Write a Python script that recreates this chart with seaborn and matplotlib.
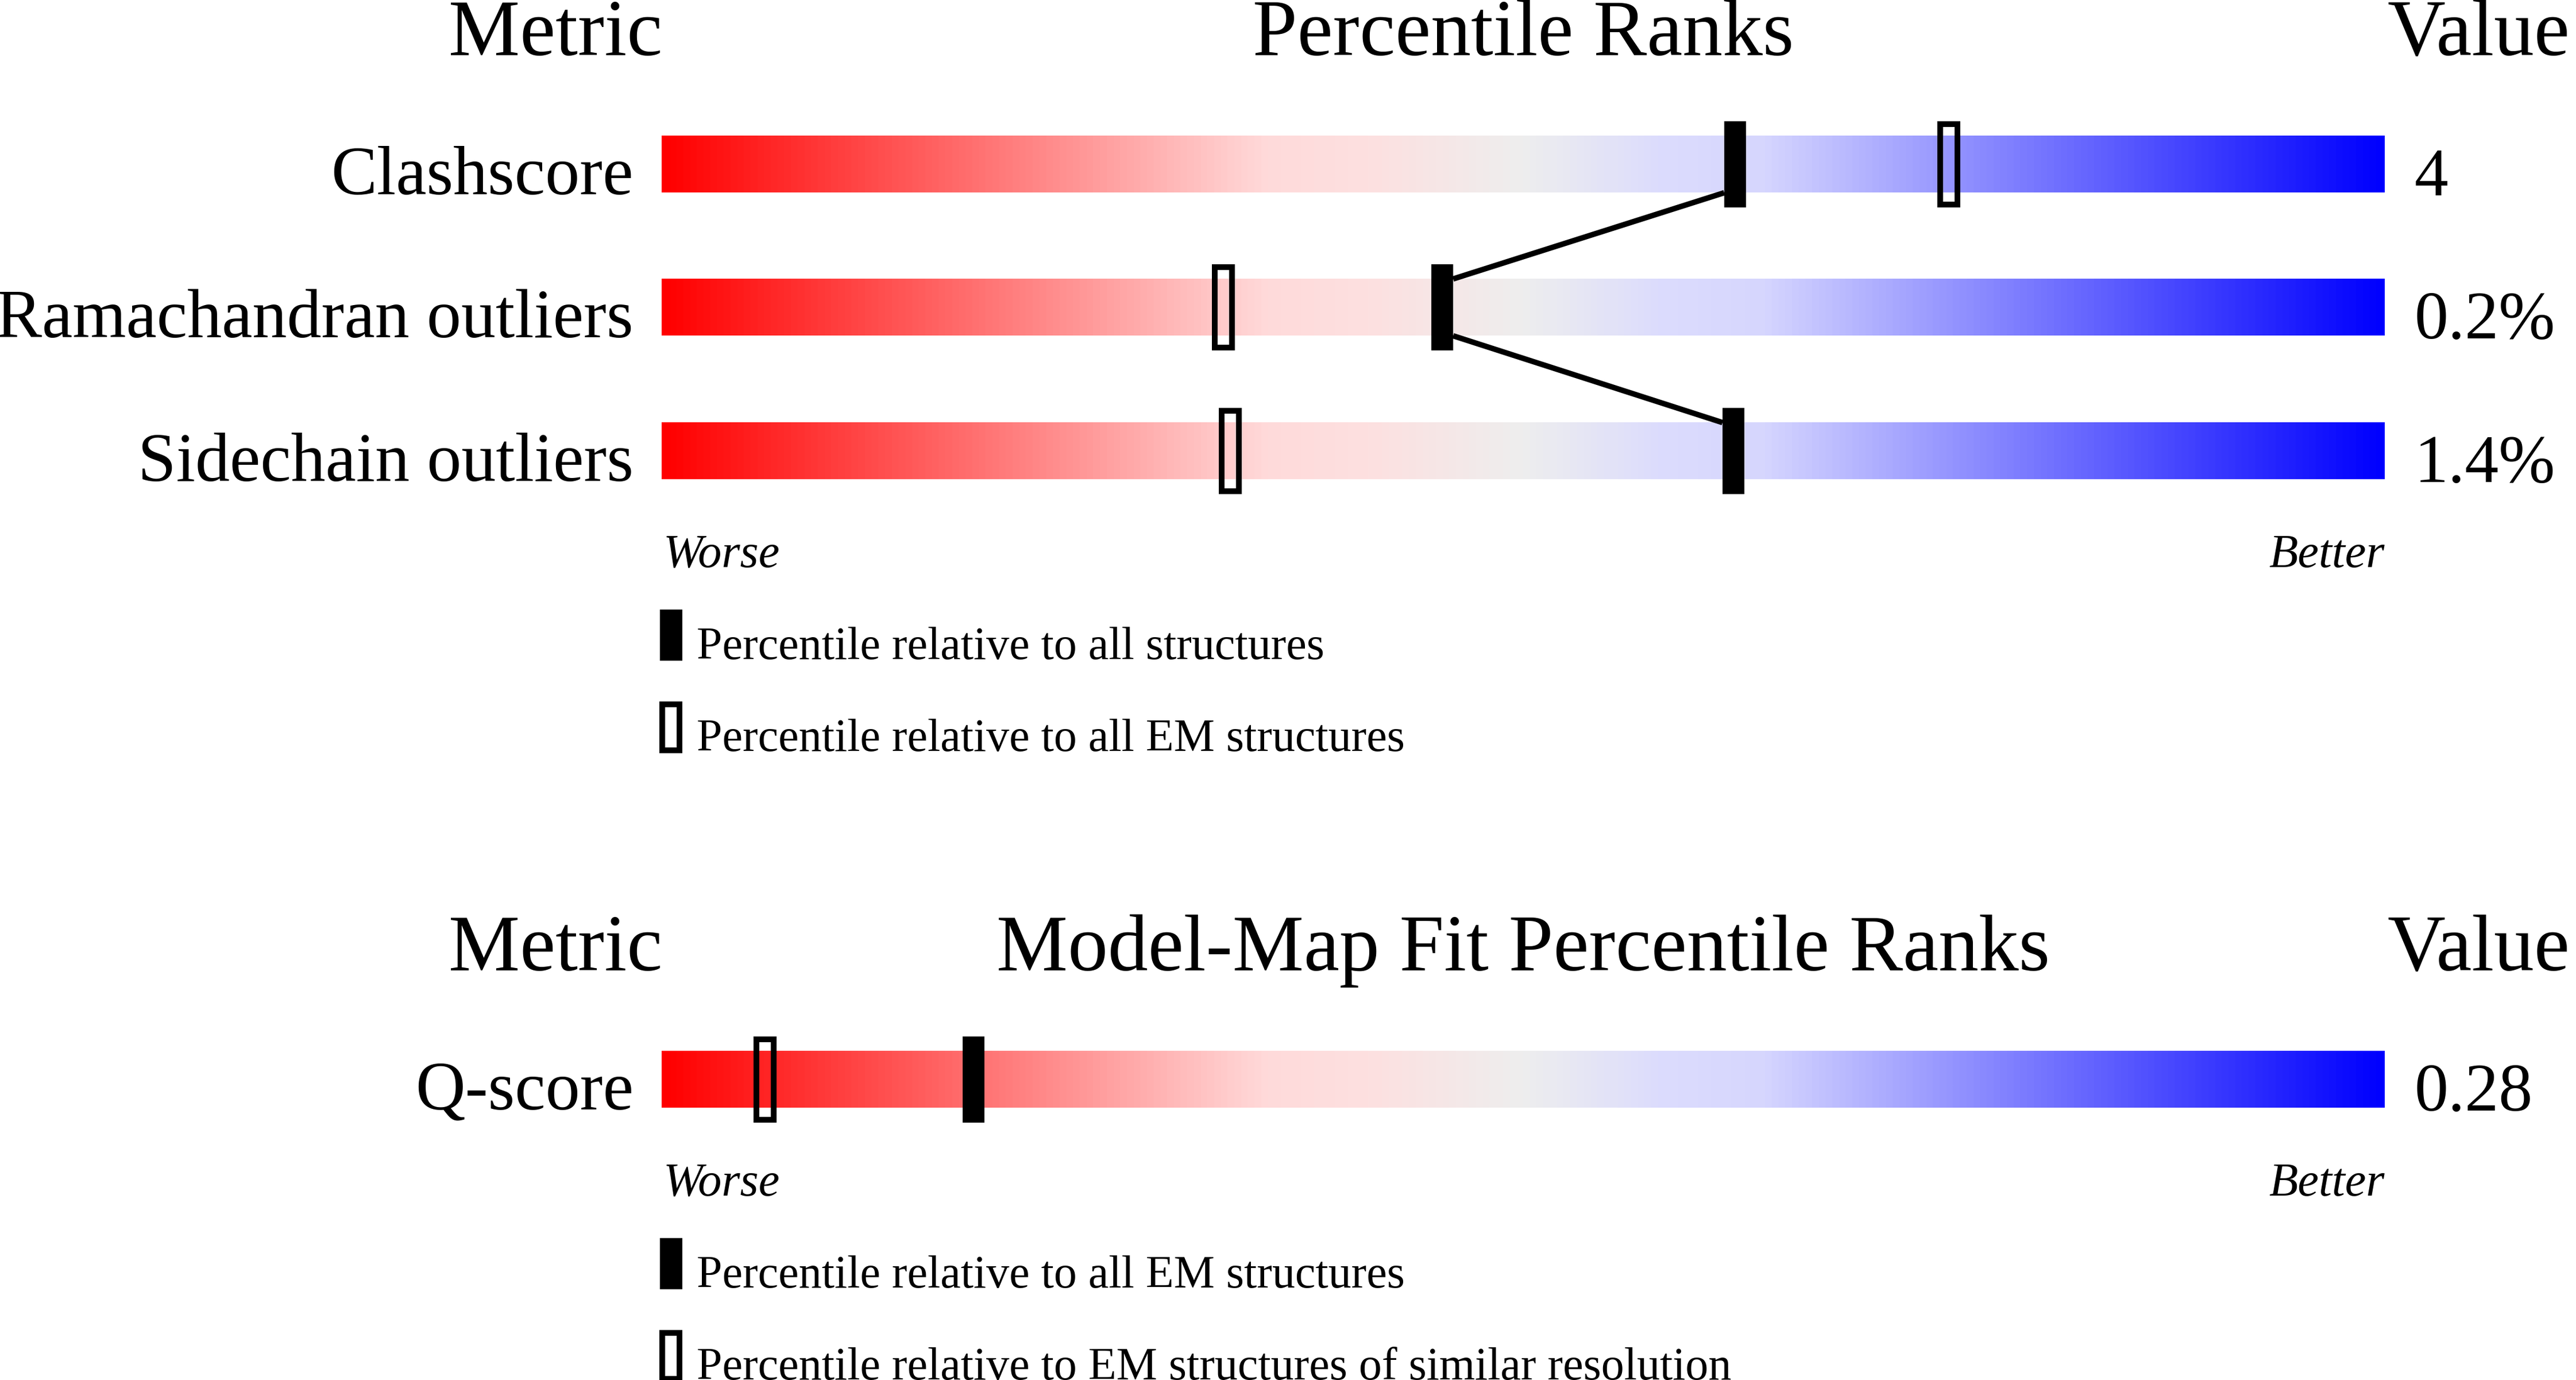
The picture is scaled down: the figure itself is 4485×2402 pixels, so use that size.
import numpy as np
import seaborn as sns
import matplotlib.pyplot as plt
from matplotlib.colors import LinearSegmentedColormap
from matplotlib.transforms import blended_transform_factory

# --- data -------------------------------------------------------------
metrics = ['Clashscore', 'Ramachandran outliers', 'Sidechain outliers']
values = ['4', '0.2%', '1.4%']
pct_all = [62.3, 45.3, 62.2]        # percentile relative to all structures
pct_em = [74.7, 32.6, 33.0]         # percentile relative to all EM structures

fit_metrics = ['Q-score']
fit_values = ['0.28']
fit_pct_em = [18.1]                 # relative to all EM structures
fit_pct_res = [6.0]                 # relative to EM structures of similar resolution

legend_top = ['Percentile relative to all structures',
              'Percentile relative to all EM structures']
legend_bottom = ['Percentile relative to all EM structures',
                 'Percentile relative to EM structures of similar resolution']

# --- layout (pixels) --------------------------------------------------
W, H = 4485, 2402
BAR_X0, BAR_X1 = 1152, 4152
rows_top = [286, 535, 785]
rows_bottom = [1879]
BAR_H = 99
MARK_H = 150
SOLID_W = 1.27          # percent of bar width
HOLLOW_W = 1.0

sns.set_theme(style='white')
plt.rcParams['font.family'] = ['Liberation Serif', 'DejaVu Serif']
plt.rcParams['text.color'] = 'black'

cmap = LinearSegmentedColormap.from_list('rank', [
    (0.0, '#ff0000'), (0.35, '#ffdada'), (0.41, '#fde0e0'), (0.50, '#eeeeee'),
    (0.58, '#dcdcfd'), (0.64, '#d6d6fe'), (1.0, '#0000ff')])

fig = plt.figure(figsize=(W / 300, H / 300), dpi=300)
ax = fig.add_axes([BAR_X0 / W, 0, (BAR_X1 - BAR_X0) / W, 1])
tx = blended_transform_factory(fig.transFigure, ax.transData)
grad = np.linspace(0, 1, 512).reshape(1, -1)


def fx(px):
    return px / W


def draw_panel(names, vals, solid, hollow, rows, header, legend):
    # gradient bars
    for y in rows:
        ax.imshow(grad, extent=(0, 100, y + BAR_H / 2, y - BAR_H / 2),
                  aspect='auto', cmap=cmap, interpolation='bilinear', zorder=1)
    # connector between solid markers
    for i in range(len(rows) - 1):
        s = 1 if solid[i + 1] > solid[i] else -1
        ax.plot([solid[i] + s * SOLID_W / 2, solid[i + 1] - s * SOLID_W / 2],
                [rows[i] + BAR_H / 2, rows[i + 1] - BAR_H / 2],
                color='black', lw=2.3, zorder=2, solid_capstyle='butt')
    # markers
    ax.bar(hollow, MARK_H - 10, width=HOLLOW_W, bottom=[y - (MARK_H - 10) / 2 for y in rows],
           fill=False, edgecolor='black', linewidth=2.4, zorder=3)
    ax.bar(solid, MARK_H, width=SOLID_W, bottom=[y - MARK_H / 2 for y in rows],
           color='black', linewidth=0, zorder=3)

    # header
    hy = rows[0] - 190
    head = dict(transform=tx, fontsize=33.5, va='baseline', color='black')
    ax.text(fx(1153), hy, 'Metric', ha='right', **head)
    ax.text(fx((BAR_X0 + BAR_X1) / 2), hy, header, ha='center', **head)
    ax.text(fx(4156), hy, 'Value', ha='left', **head)

    for name, v, y in zip(names, vals, rows):
        ax.text(fx(1103), y + 52, name, transform=tx, fontsize=28.8,
                ha='right', va='baseline', color='black')
        ax.text(fx(4204), y + 54, v, transform=tx, fontsize=28.3,
                ha='left', va='baseline', color='black')

    base = rows[-1] + BAR_H / 2
    ax.text(fx(1155), base + 152, 'Worse', transform=tx, fontsize=19.8,
            style='italic', ha='left', va='baseline', color='black')
    ax.text(fx(BAR_X1), base + 152, 'Better', transform=tx, fontsize=19.8,
            style='italic', ha='right', va='baseline', color='black')

    # legend keys
    k1, k2 = base + 271, base + 431
    ax.bar([0.55], [89], width=SOLID_W, bottom=[k1 - 44.5], color='black',
           linewidth=0, clip_on=False)
    ax.bar([0.55], [80], width=HOLLOW_W, bottom=[k2 - 40], fill=False,
           edgecolor='black', linewidth=2.4, clip_on=False)
    for k, lab in zip((k1, k2), legend):
        ax.text(fx(1213), k + 42, lab, transform=tx, fontsize=19.2,
                ha='left', va='baseline', color='black')


draw_panel(metrics, values, pct_all, pct_em, rows_top, 'Percentile Ranks', legend_top)
draw_panel(fit_metrics, fit_values, fit_pct_em, fit_pct_res, rows_bottom,
           'Model-Map Fit Percentile Ranks', legend_bottom)

ax.set_xlim(0, 100)
ax.set_ylim(H, 0)
ax.axis('off')
sns.despine(ax=ax, left=True, bottom=True)

fig.savefig('out.png', dpi=300, facecolor='white')
